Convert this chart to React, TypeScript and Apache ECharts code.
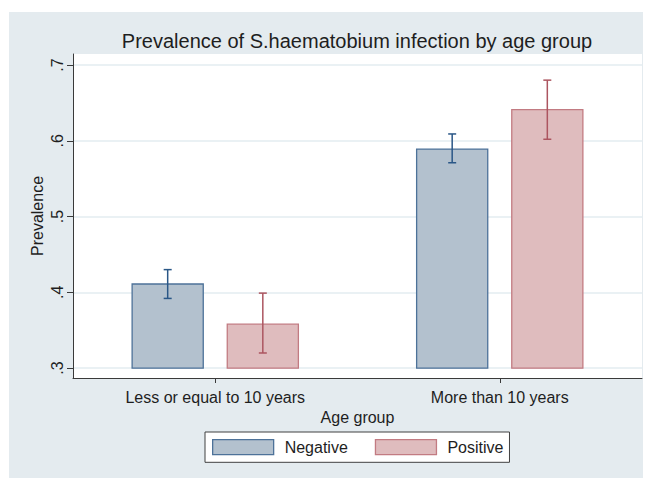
import React, { useEffect, useRef } from "react";
import * as echarts from "echarts";

const categories = ["Less or equal to 10 years", "More than 10 years"];
const negativeMean = [0.411, 0.589];
const negativeLow = [0.392, 0.571];
const negativeHigh = [0.43, 0.609];
const positiveMean = [0.358, 0.641];
const positiveLow = [0.32, 0.602];
const positiveHigh = [0.399, 0.68];
const yTicks = [0.3, 0.4, 0.5, 0.6, 0.7];
const barBase = 0.3;
const yMin = 0.287;
const yMax = 0.7145;

const FONT = "'Liberation Sans', Arial, Helvetica, sans-serif";
const TEXT = "#1e1e1e";

const NEG_FILL = "#b3c1ce";
const NEG_BORDER = "#4d7299";
const NEG_ERR = "#2a5787";
const POS_FILL = "#dfbcbe";
const POS_BORDER = "#c27b82";
const POS_ERR = "#ac5560";

function makeRenderItem(side: number, fill: string, border: string, err: string) {
  return (params: any, api: any) => {
    const idx = api.value(0);
    const mean = api.value(1);
    const lo = api.value(2);
    const hi = api.value(3);
    const bandW = api.size([1, 0])[0];
    const barW = bandW * 0.25;
    const gap = bandW * 0.0844;
    const c = api.coord([idx, mean]);
    const cx = c[0] + side * (gap / 2 + barW / 2);
    const yTop = c[1];
    const yBase = api.coord([idx, barBase])[1];
    const yLo = api.coord([idx, lo])[1];
    const yHi = api.coord([idx, hi])[1];
    const cap = 4;
    return {
      type: "group",
      children: [
        {
          type: "rect",
          shape: { x: cx - barW / 2, y: yTop, width: barW, height: yBase - yTop },
          style: { fill, stroke: border, lineWidth: 1.3 },
        },
        {
          type: "line",
          shape: { x1: cx, y1: yLo, x2: cx, y2: yHi },
          style: { stroke: err, lineWidth: 1.5 },
        },
        {
          type: "line",
          shape: { x1: cx - cap, y1: yHi, x2: cx + cap, y2: yHi },
          style: { stroke: err, lineWidth: 1.5 },
        },
        {
          type: "line",
          shape: { x1: cx - cap, y1: yLo, x2: cx + cap, y2: yLo },
          style: { stroke: err, lineWidth: 1.5 },
        },
      ],
    };
  };
}

export default function App() {
  const ref = useRef<HTMLDivElement>(null);
  useEffect(() => {
    if (!ref.current) return;
    const chart = echarts.init(ref.current, null, { renderer: "svg" });
    const negData = categories.map((_, i) => [i, negativeMean[i], negativeLow[i], negativeHigh[i]]);
    const posData = categories.map((_, i) => [i, positiveMean[i], positiveLow[i], positiveHigh[i]]);
    const fmt = (v: number) => v.toFixed(1).replace(/^0/, "");
    chart.setOption({
      animation: false,
      backgroundColor: "#ffffff",
      textStyle: { fontFamily: FONT },
      graphic: [
        {
          type: "rect",
          z: -10,
          zlevel: 0,
          silent: true,
          shape: { x: 9, y: 12, width: 634, height: 466 },
          style: { fill: "#e4ebef" },
        },
      ],
      title: {
        text: "Prevalence of S.haematobium infection by age group",
        left: 357,
        textAlign: "center",
        top: 31,
        padding: 0,
        textStyle: { fontFamily: FONT, fontSize: 20, fontWeight: "normal", color: TEXT },
      },
      grid: {
        left: 73,
        right: 6,
        top: 54,
        bottom: 100,
        show: true,
        backgroundColor: "#ffffff",
        borderWidth: 0,
      },
      legend: {
        left: 205,
        top: 432,
        padding: [7, 6, 7, 7],
        itemWidth: 61,
        itemHeight: 15,
        itemGap: 27,
        backgroundColor: "#ffffff",
        borderColor: "#404040",
        borderWidth: 1,
        textStyle: { fontFamily: FONT, fontSize: 16, color: TEXT, padding: [0, 0, 0, 6] },
        data: [
          { name: "Negative", icon: "rect", itemStyle: { color: NEG_FILL, borderColor: NEG_BORDER, borderWidth: 1.3 } },
          { name: "Positive", icon: "rect", itemStyle: { color: POS_FILL, borderColor: POS_BORDER, borderWidth: 1.3 } },
        ],
      },
      xAxis: {
        type: "category",
        data: categories,
        name: "Age group",
        nameLocation: "middle",
        nameGap: 27,
        nameTextStyle: { fontFamily: FONT, fontSize: 16, color: TEXT },
        axisLine: { show: true, lineStyle: { color: "#3a3a3a", width: 1 } },
        axisTick: { show: true, alignWithLabel: true, length: 5, lineStyle: { color: "#3a3a3a" } },
        axisLabel: { fontFamily: FONT, fontSize: 16, color: TEXT, margin: 11 },
        splitLine: { show: false },
      },
      yAxis: {
        type: "value",
        min: yMin,
        max: yMax,
        name: "Prevalence",
        nameLocation: "middle",
        nameGap: 28,
        nameMoveOverlap: false,
        nameTextStyle: { fontFamily: FONT, fontSize: 16, color: TEXT },
        axisLine: { show: true, lineStyle: { color: "#3a3a3a", width: 1 } },
        axisTick: { show: true, length: 6, customValues: yTicks, lineStyle: { color: "#3a3a3a" } },
        axisLabel: {
          fontFamily: FONT,
          fontSize: 16,
          color: TEXT,
          rotate: 90,
          margin: 8,
          customValues: yTicks,
          formatter: fmt,
        },
        splitLine: { show: true, lineStyle: { color: "#e3ecf1", width: 1.5 } },
      },
      series: [
        {
          name: "Negative",
          type: "custom",
          renderItem: makeRenderItem(-1, NEG_FILL, NEG_BORDER, NEG_ERR),
          itemStyle: { color: NEG_FILL, borderColor: NEG_BORDER },
          encode: { x: 0, y: 1 },
          data: negData,
          z: 5,
        },
        {
          name: "Positive",
          type: "custom",
          renderItem: makeRenderItem(1, POS_FILL, POS_BORDER, POS_ERR),
          itemStyle: { color: POS_FILL, borderColor: POS_BORDER },
          encode: { x: 0, y: 1 },
          data: posData,
          z: 5,
        },
      ],
    });
    return () => chart.dispose();
  }, []);
  return (
    <div
      ref={ref}
      style={{ position: "fixed", left: 0, top: 0, width: 648, height: 478 }}
    />
  );
}
